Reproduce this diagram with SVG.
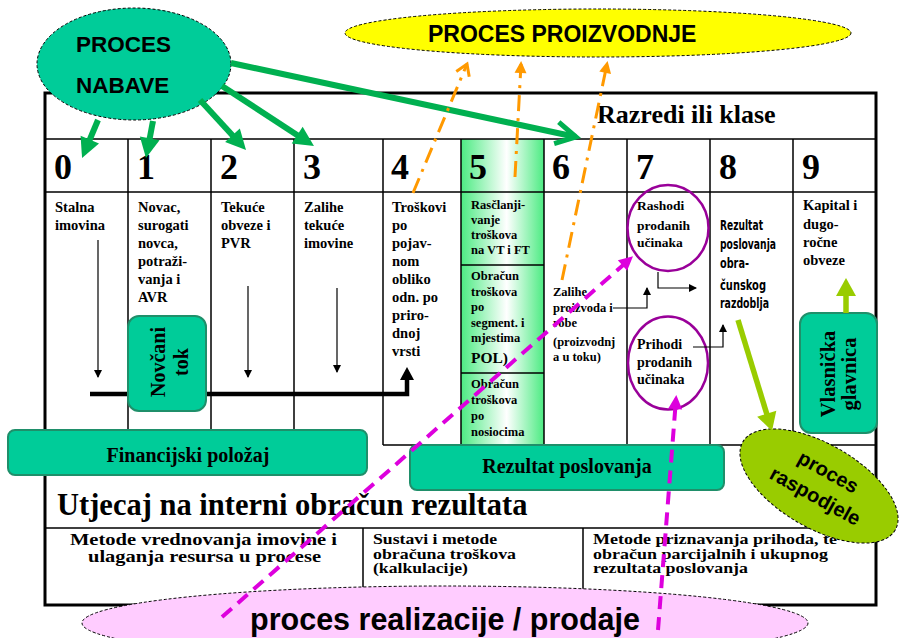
<svg xmlns="http://www.w3.org/2000/svg" width="899" height="638" viewBox="0 0 899 638">
<style>
.ser{font-family:"Liberation Serif","Times New Roman",serif;font-weight:bold;fill:#000}
.san{font-family:"Liberation Sans",Arial,sans-serif;font-weight:bold;fill:#000}
.cond{font-family:"DejaVu Sans Condensed","DejaVu Sans",sans-serif;font-weight:bold;fill:#000}
.dig{font-size:36px}
.c14{font-size:14.5px}
.c12{font-size:12.5px}
.bx{fill:#00CC99;stroke:#1F8F6A;stroke-width:2}
.grid{stroke:#000;stroke-width:1.5;fill:none}
.thin{stroke:#000;stroke-width:1.2;fill:none}
.garr{stroke:#00B050;stroke-width:6;fill:none}
.oarr{stroke:#FF9900;stroke-width:3;fill:none;stroke-dasharray:16 7 3 7}
.marr{stroke:#DD00DD;stroke-width:4;fill:none;stroke-dasharray:13 8}
.yarr{stroke:#99CC00;stroke-width:5.5;fill:none}
.circ{fill:none;stroke:#990099;stroke-width:2.5}
.dash{stroke:#000;stroke-width:1;stroke-dasharray:3 2}
</style>
<defs>
<linearGradient id="g5" x1="0" y1="0" x2="1" y2="0">
<stop offset="0" stop-color="#4CEB82"/>
<stop offset="0.55" stop-color="#FFFFFF"/>
<stop offset="1" stop-color="#4CEB82"/>
</linearGradient>
<marker id="mg" markerUnits="userSpaceOnUse" markerWidth="20" markerHeight="20" refX="8" refY="10" orient="auto" overflow="visible"><path d="M0,0 L20,10 L0,20 z" fill="#00B050"/></marker>
<marker id="mgv" markerUnits="userSpaceOnUse" markerWidth="24" markerHeight="26" refX="21" refY="12" orient="auto" overflow="visible"><path d="M1,1 L21,12 L1,23" fill="none" stroke="#00B050" stroke-width="5"/></marker>
<marker id="mo" markerUnits="userSpaceOnUse" markerWidth="12" markerHeight="12" refX="9" refY="6" orient="auto" overflow="visible"><path d="M0,0 L12,6 L0,12 z" fill="#FF9900"/></marker>
<marker id="mov" markerUnits="userSpaceOnUse" markerWidth="14" markerHeight="16" refX="12" refY="7" orient="auto" overflow="visible"><path d="M1,0 L12,7 L1,14" fill="none" stroke="#FF9900" stroke-width="3"/></marker>
<marker id="mm" markerUnits="userSpaceOnUse" markerWidth="14" markerHeight="14" refX="10" refY="7" orient="auto" overflow="visible"><path d="M0,0 L14,7 L0,14 z" fill="#DD00DD"/></marker>
<marker id="mb" markerUnits="userSpaceOnUse" markerWidth="8" markerHeight="8" refX="7" refY="4" orient="auto" overflow="visible"><path d="M0,0 L8,4 L0,8 z" fill="#000"/></marker>
<marker id="mbk" markerUnits="userSpaceOnUse" markerWidth="14" markerHeight="14" refX="8" refY="7" orient="auto" overflow="visible"><path d="M0,0 L13,7 L0,14 z" fill="#000"/></marker>
<marker id="my" markerUnits="userSpaceOnUse" markerWidth="20" markerHeight="20" refX="6" refY="10" orient="auto" overflow="visible"><path d="M0,0 L18,10 L0,20 z" fill="#99CC00"/></marker>
</defs>

<rect width="899" height="638" fill="#fff"/>

<g id="table">
<rect x="461" y="139" width="83" height="306" fill="url(#g5)"/>
<rect x="45" y="93" width="831" height="512" fill="none" stroke="#000" stroke-width="3"/>
<path class="grid" d="M45,139 H876 M45,192 H876 M383,445 H876 M45,528 H876 M461,265 H544 M461,373 H544"/>
<path class="grid" d="M128,139 V445 M211,139 V445 M294,139 V445 M383,139 V445 M461,139 V445 M544,139 V445 M627,139 V445 M710,139 V445 M793,139 V445 M363,528 V605 M583,528 V605"/>
<text class="ser" x="597" y="123" font-size="26">Razredi ili klase</text>
<g class="ser dig">
<text x="54" y="179">0</text><text x="137" y="179">1</text><text x="220" y="179">2</text><text x="303" y="179">3</text><text x="391" y="179">4</text><text x="469" y="179">5</text><text x="552" y="179">6</text><text x="636" y="179">7</text><text x="719" y="179">8</text><text x="802" y="179">9</text>
</g>
</g>

<g id="col0"><text class="ser c14" x="55" y="212">Stalna<tspan x="55" dy="18">imovina</tspan></text></g>
<g id="col1"><text class="ser c14" x="138" y="212">Novac,<tspan x="138" dy="18">surogati</tspan><tspan x="138" dy="18">novca,</tspan><tspan x="138" dy="18">potraži-</tspan><tspan x="138" dy="18">vanja i</tspan><tspan x="138" dy="18">AVR</tspan></text></g>
<g id="col2"><text class="ser c14" x="221" y="212">Tekuće<tspan x="221" dy="18">obveze i</tspan><tspan x="221" dy="18">PVR</tspan></text></g>
<g id="col3"><text class="ser c14" x="304" y="212">Zalihe<tspan x="304" dy="18">tekuće</tspan><tspan x="304" dy="18">imovine</tspan></text></g>
<g id="col4"><text class="ser c14" x="392" y="212">Troškovi<tspan x="392" dy="18">po</tspan><tspan x="392" dy="18">pojav-</tspan><tspan x="392" dy="18">nom</tspan><tspan x="392" dy="18">obliko</tspan><tspan x="392" dy="18">odn. po</tspan><tspan x="392" dy="18">priro-</tspan><tspan x="392" dy="18">dnoj</tspan><tspan x="392" dy="18">vrsti</tspan></text></g>
<g id="col5">
<text class="ser c12" x="471" y="209">Rasčlanji-<tspan x="471" dy="15">vanje</tspan><tspan x="471" dy="15">troškova</tspan><tspan x="471" dy="15">na VT i FT</tspan></text>
<text class="ser c12" x="471" y="280">Obračun<tspan x="471" dy="15.5">troškova</tspan><tspan x="471" dy="15.5">po</tspan><tspan x="471" dy="15.5">segment. i</tspan><tspan x="471" dy="15.5">mjestima</tspan><tspan x="471" dy="20.5" font-size="15.5">POL)</tspan></text>
<text class="ser c12" x="471" y="388">Obračun<tspan x="471" dy="16">troškova</tspan><tspan x="471" dy="16">po</tspan><tspan x="471" dy="16">nosiocima</tspan></text>
</g>
<g id="col6"><text class="ser c12" x="553" y="296">Zalihe<tspan x="553" dy="16">proizvoda i</tspan><tspan x="553" dy="15">robe</tspan><tspan x="553" dy="19">(proizvodnj</tspan><tspan x="553" dy="15">a u toku)</tspan></text></g>
<g id="rashodi"><ellipse class="circ" cx="668" cy="228" rx="40.5" ry="43"/><text class="ser" font-size="13.5" x="637" y="210">Rashodi<tspan x="637" dy="20">prodanih</tspan><tspan x="637" dy="17">učinaka</tspan></text></g>
<g id="prihodi"><ellipse class="circ" cx="668" cy="363" rx="40" ry="46.5"/><text class="ser" font-size="14" x="637" y="349">Prihodi<tspan x="637" dy="18">prodanih</tspan><tspan x="637" dy="17">učinaka</tspan></text></g>
<g id="col8" class="cond" font-size="14.5">
<text x="720" y="230" textLength="43" lengthAdjust="spacingAndGlyphs">Rezultat</text>
<text x="720" y="249" textLength="56" lengthAdjust="spacingAndGlyphs">poslovanja</text>
<text x="720" y="268" textLength="29" lengthAdjust="spacingAndGlyphs">obra-</text>
<text x="720" y="290" textLength="46" lengthAdjust="spacingAndGlyphs">čunskog</text>
<text x="720" y="308" textLength="49" lengthAdjust="spacingAndGlyphs">razdoblja</text>
</g>
<g id="col9"><text class="ser c14" x="803" y="210">Kapital i<tspan x="803" dy="19">dugo-</tspan><tspan x="803" dy="18">ročne</tspan><tspan x="803" dy="18">obveze</tspan></text></g>

<g id="bottom">
<text class="ser" x="57" y="515" font-size="30.5">Utjecaj na interni obračun rezultata</text>
<g class="ser" font-size="15">
<text x="70" y="545" font-size="16" textLength="267" lengthAdjust="spacingAndGlyphs">Metode vrednovanja imovine i</text>
<text x="88" y="562" font-size="16" textLength="233" lengthAdjust="spacingAndGlyphs">ulaganja resursa u procese</text>
<text x="373" y="544" textLength="124" lengthAdjust="spacingAndGlyphs">Sustavi i metode</text>
<text x="373" y="558.5" textLength="143" lengthAdjust="spacingAndGlyphs">obračuna troškova</text>
<text x="373" y="573" textLength="95" lengthAdjust="spacingAndGlyphs">(kalkulacije)</text>
<text x="593" y="544" textLength="244" lengthAdjust="spacingAndGlyphs">Metode priznavanja prihoda, te</text>
<text x="593" y="558.5" textLength="235" lengthAdjust="spacingAndGlyphs">obračun parcijalnih i ukupnog</text>
<text x="593" y="573" textLength="155" lengthAdjust="spacingAndGlyphs">rezultata poslovanja</text>
</g>
</g>

<g id="connectors">
<path class="thin" d="M98,240 V377" marker-end="url(#mb)"/>
<path class="thin" d="M248,286 V377" marker-end="url(#mb)"/>
<path class="thin" d="M337,288 V372" marker-end="url(#mb)"/>
<path class="thin" d="M613,308 H647 V288" marker-end="url(#mb)"/>
<path class="thin" d="M658,272 V288 H696" marker-end="url(#mb)"/>
<path class="thin" d="M693,347 H723 V325" marker-end="url(#mb)"/>
<path d="M90,394 H407 V372" fill="none" stroke="#000" stroke-width="4.5" marker-end="url(#mbk)"/>
</g>

<g id="novcani-tok"><rect class="bx" x="128" y="316" width="78" height="95" rx="11"/><text class="ser" font-size="20" text-anchor="middle" transform="translate(167,362) rotate(-90)"><tspan x="0" y="-2">Novčani</tspan><tspan x="0" y="21">tok</tspan></text></g>
<g id="vlasnicka-glavnica"><rect class="bx" x="800" y="313" width="77" height="120" rx="11"/><text class="ser" font-size="20.5" text-anchor="middle" transform="translate(838,374) rotate(-90)"><tspan x="0" y="-3">Vlasnička</tspan><tspan x="0" y="18">glavnica</tspan></text></g>
<g id="financijski-polozaj"><rect class="bx" x="8" y="430" width="359" height="45" rx="7"/><text class="ser" font-size="20" x="188" y="462" text-anchor="middle">Financijski položaj</text></g>
<g id="rezultat-poslovanja"><rect class="bx" x="410" y="445" width="314" height="45" rx="7"/><text class="ser" font-size="20" x="567" y="473" text-anchor="middle">Rezultat poslovanja</text></g>

<g id="proces-nabave"><ellipse class="dash" cx="134" cy="64" rx="97" ry="56" fill="#00CC99"/><text class="san" font-size="22.5" x="76" y="52">PROCES</text><text class="san" font-size="22.5" x="76" y="93">NABAVE</text></g>
<g id="proces-proizvodnje"><ellipse class="dash" cx="598" cy="33" rx="253" ry="24" fill="#FFFF00"/><text class="san" font-size="23" x="428" y="42">PROCES PROIZVODNJE</text></g>
<g id="proces-raspodjele"><ellipse class="dash" cx="819" cy="486" rx="88" ry="42" fill="#99CC00" transform="rotate(30 819 486)"/><text class="san" font-size="20" text-anchor="middle" transform="translate(825,478) rotate(29)">proces</text><text class="san" font-size="20" text-anchor="middle" transform="translate(812,502) rotate(29)">raspodjele</text></g>
<g id="proces-realizacije"><ellipse class="dash" cx="445" cy="623" rx="363" ry="37" fill="#FFCCFF"/><text class="san" font-size="30.5" x="445" y="630" text-anchor="middle">proces realizacije / prodaje</text></g>

<g id="process-connectors">
<path class="garr" d="M98,120 L86.7,146.9" marker-end="url(#mg)"/>
<path class="garr" d="M153,121 L148.2,146.2" marker-end="url(#mg)"/>
<path class="garr" d="M200,100 L237.9,141.2" marker-end="url(#mg)"/>
<path class="garr" d="M222,86 L303.9,139.4" marker-end="url(#mg)"/>
<path class="garr" d="M231,63 L576,137" marker-end="url(#mgv)"/>
<path class="oarr" d="M413,193 L467,64" marker-end="url(#mov)"/>
<path class="oarr" d="M515,177 L521,64" marker-end="url(#mo)"/>
<path class="oarr" d="M562,280 L607,64" marker-end="url(#mo)"/>
<path class="yarr" d="M846,313 V290" marker-end="url(#my)"/>
<path class="yarr" d="M738,320 L768.5,419.5" marker-end="url(#my)"/>
<path class="marr" d="M222,617 L630,259" marker-end="url(#mm)"/>
<path class="marr" d="M658,630 L676,399" marker-end="url(#mm)"/>
</g>
</svg>
